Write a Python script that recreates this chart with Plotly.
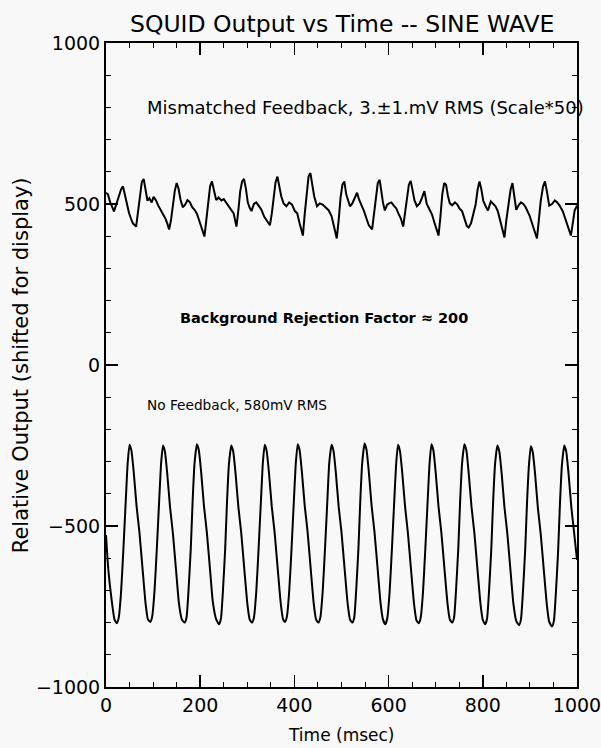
import plotly.graph_objects as go

# ---------------- data ----------------
# Mismatched feedback trace (scaled *50, shifted to ~+500)
fb_time = [0, 4, 9, 13, 17, 22, 27, 32, 36, 40, 45, 49, 53, 57, 64,
           68, 72, 76, 80, 84, 88, 92, 97, 101, 106, 111, 116, 121, 126, 130, 134,
           138, 142, 146, 150, 154, 158, 163, 168, 173, 178, 183, 188, 193, 198, 203, 209,
           213, 217, 221, 225, 229, 234, 239, 245, 250, 256, 262, 267, 271, 274, 277,
           281, 285, 289, 293, 297, 301, 305, 309, 314, 319, 324, 330, 336, 342, 348,
           352, 356, 360, 364, 368, 372, 377, 383, 389, 395, 401, 406, 411, 415, 418,
           422, 426, 430, 434, 438, 442, 448, 454, 460, 466, 473, 479, 484, 490,
           494, 498, 502, 506, 510, 514, 518, 523, 528, 533, 537, 542, 548, 553, 558, 565,
           569, 573, 577, 581, 585, 588, 592, 597, 601, 606, 611, 616, 621, 626, 631,
           635, 639, 643, 647, 651, 655, 660, 666, 671, 676, 681, 687, 692, 699, 706,
           710, 714, 718, 722, 726, 730, 735, 741, 746, 751, 756, 761, 766, 770,
           775, 780, 785, 789, 793, 797, 801, 806, 811, 817, 822, 827, 832, 839, 846,
           850, 855, 859, 863, 867, 871, 876, 881, 886, 891, 899, 907, 915,
           919, 923, 928, 932, 936, 941, 947, 953, 958, 963, 970, 976, 981, 987,
           991, 995, 1000]
fb_value = [535, 530, 505, 490, 477, 500, 525, 545, 555, 530, 490, 471, 455, 440, 430,
            480, 535, 568, 578, 540, 510, 518, 505, 522, 512, 495, 482, 470, 455, 440, 421,
            450, 500, 540, 565, 548, 515, 490, 498, 512, 506, 490, 482, 470, 448, 427, 399,
            450, 510, 555, 570, 545, 512, 520, 511, 515, 502, 490, 482, 471, 450, 430,
            480, 540, 570, 578, 548, 505, 488, 478, 500, 505, 495, 482, 460, 445, 434,
            470, 530, 568, 585, 555, 524, 502, 493, 505, 498, 478, 471, 440, 420, 402,
            470, 540, 585, 596, 560, 524, 493, 502, 498, 490, 480, 462, 430, 393,
            450, 520, 560, 570, 530, 510, 493, 502, 520, 535, 515, 500, 477, 455, 434, 421,
            470, 530, 565, 575, 530, 505, 480, 498, 502, 505, 495, 487, 470, 455, 430,
            470, 525, 560, 572, 540, 511, 493, 502, 520, 540, 500, 480, 468, 434, 402,
            460, 530, 565, 560, 525, 502, 496, 505, 498, 485, 478, 455, 432, 427,
            440, 470, 500, 545, 570, 545, 510, 493, 480, 508, 500, 493, 477, 440, 396,
            450, 510, 545, 565, 520, 482, 496, 505, 500, 490, 465, 430, 393,
            450, 510, 555, 570, 540, 495, 500, 511, 505, 495, 477, 448, 425, 402,
            440, 480, 495]

# No feedback trace (shifted to ~-500)
nf_time = [0, 5, 12, 18,
           23, 27, 32, 37, 42, 46, 50, 54, 59, 65, 71, 78, 84, 89,
           94, 98, 103, 108, 113, 117, 121, 125, 130, 136, 142, 149, 155, 161,
           167, 171, 175, 180, 184, 188, 193, 197, 202, 208, 214, 221, 227, 234,
           240, 244, 248, 253, 257, 261, 266, 270, 275, 281, 287, 294, 300, 305,
           310, 314, 319, 324, 329, 333, 337, 341, 346, 352, 358, 365, 371, 376,
           380, 384, 389, 394, 399, 403, 407, 411, 416, 422, 428, 435, 441, 446,
           451, 455, 460, 465, 470, 474, 479, 483, 488, 494, 500, 507, 513, 518,
           523, 527, 531, 536, 540, 544, 549, 553, 558, 564, 570, 577, 583, 588,
           593, 597, 602, 607, 612, 616, 620, 624, 629, 635, 641, 648, 654, 659,
           664, 668, 673, 678, 683, 687, 691, 695, 700, 706, 712, 719, 725, 730,
           735, 739, 743, 748, 752, 756, 761, 765, 770, 776, 782, 789, 795, 800,
           805, 809, 813, 818, 822, 826, 831, 835, 840, 846, 852, 859, 865, 871,
           877, 881, 885, 890, 894, 898, 902, 906, 911, 917, 923, 930, 936, 941,
           947, 951, 955, 960, 964, 968, 973, 977, 982, 988, 994, 1000]
nf_value = [-528, -637, -730, -790,
            -802, -785, -705, -570, -420, -305, -248, -266, -335, -440, -520, -640, -740, -790,
            -798, -782, -702, -568, -418, -305, -250, -268, -337, -442, -522, -642, -742, -790,
            -800, -784, -705, -570, -420, -305, -246, -264, -332, -438, -518, -638, -738, -790,
            -805, -788, -708, -572, -422, -308, -250, -268, -336, -440, -520, -640, -740, -790,
            -800, -785, -705, -570, -420, -305, -248, -266, -335, -440, -520, -640, -740, -790,
            -798, -782, -702, -568, -418, -305, -246, -264, -334, -438, -518, -640, -740, -790,
            -800, -785, -705, -570, -420, -305, -248, -266, -335, -440, -520, -640, -740, -790,
            -800, -784, -704, -568, -418, -304, -244, -262, -332, -438, -518, -638, -740, -790,
            -805, -788, -708, -572, -422, -308, -248, -266, -335, -440, -522, -642, -742, -792,
            -802, -786, -706, -570, -420, -305, -246, -264, -334, -440, -520, -640, -740, -790,
            -800, -784, -704, -568, -418, -305, -246, -264, -335, -440, -520, -640, -740, -792,
            -805, -788, -708, -572, -422, -308, -250, -268, -336, -442, -522, -642, -742, -795,
            -808, -790, -710, -574, -424, -310, -252, -270, -338, -445, -525, -645, -745, -798,
            -812, -794, -712, -575, -424, -310, -250, -268, -336, -442, -522, -605]

x_tick_vals = [0, 200, 400, 600, 800, 1000]
y_tick_vals = [-1000, -500, 0, 500, 1000]

title_text = "SQUID Output vs Time -- SINE WAVE"
x_title = "Time (msec)"
y_title = "Relative Output (shifted for display)"
label_top = "Mismatched Feedback, 3.±1.mV RMS (Scale*50)"
label_mid = "<b>Background Rejection Factor ≈ 200</b>"
label_low = "No Feedback, 580mV RMS"

# ---------------- figure ----------------
FONT = "DejaVu Sans"
BG = "#f8f8f8"

fig = go.Figure()
fig.add_trace(go.Scatter(x=fb_time, y=fb_value, mode="lines",
                         line=dict(color="black", width=2), hoverinfo="skip"))
fig.add_trace(go.Scatter(x=nf_time, y=nf_value, mode="lines",
                         line=dict(color="black", width=2, shape="spline", smoothing=0.5),
                         hoverinfo="skip"))

axis_common = dict(
    showgrid=False, zeroline=False, automargin=False, ticklabeloverflow="allow",
    showline=True, linecolor="black", linewidth=2,
    mirror="ticks", ticks="inside", ticklen=12, tickwidth=1.5, tickcolor="black",
    tickfont=dict(family=FONT, size=19, color="black"),
)

fig.update_xaxes(range=[0, 1000], tickvals=x_tick_vals,
                 minor=dict(dtick=50, ticks="inside", ticklen=5, tickwidth=1, tickcolor="black"),
                 **axis_common)
fig.update_yaxes(range=[-1000, 1000], tickvals=y_tick_vals,
                 minor=dict(dtick=100, ticks="inside", ticklen=5, tickwidth=1, tickcolor="black"),
                 **axis_common)

# title and axis titles as annotations for exact placement
fig.add_annotation(text=title_text, x=0.5, y=1.03, xref="paper", yref="paper",
                   xanchor="center", yanchor="middle", showarrow=False,
                   font=dict(family=FONT, size=23.5, color="black"))
fig.add_annotation(text=x_title, x=0.5, y=-0.075, xref="paper", yref="paper",
                   xanchor="center", yanchor="middle", showarrow=False,
                   font=dict(family=FONT, size=17, color="black"))
fig.add_annotation(text=y_title, x=-0.18, y=0.5, xref="paper", yref="paper",
                   xanchor="center", yanchor="middle", textangle=-90, showarrow=False,
                   font=dict(family=FONT, size=21, color="black"))

fig.add_annotation(text=label_top, x=83, y=800, xref="x", yref="y", xanchor="left",
                   yanchor="middle", showarrow=False,
                   font=dict(family=FONT, size=18, color="black"))
fig.add_annotation(text=label_mid, x=153, y=146, xref="x", yref="y", xanchor="left",
                   yanchor="middle", showarrow=False,
                   font=dict(family=FONT, size=14.5, color="black"))
fig.add_annotation(text=label_low, x=83, y=-124, xref="x", yref="y", xanchor="left",
                   yanchor="middle", showarrow=False,
                   font=dict(family=FONT, size=13.7, color="black"))

fig.update_layout(
    width=601, height=748,
    margin=dict(l=106, r=24, t=43, b=61, autoexpand=False),
    paper_bgcolor=BG, plot_bgcolor=BG,
    showlegend=False,
    hovermode=False,
)

fig.write_html("out.html",
               config={"displayModeBar": False, "staticPlot": True},
               post_script="document.body.style.margin='0';"
                           "document.body.style.overflow='hidden';"
                           "document.body.style.background='" + BG + "';")
